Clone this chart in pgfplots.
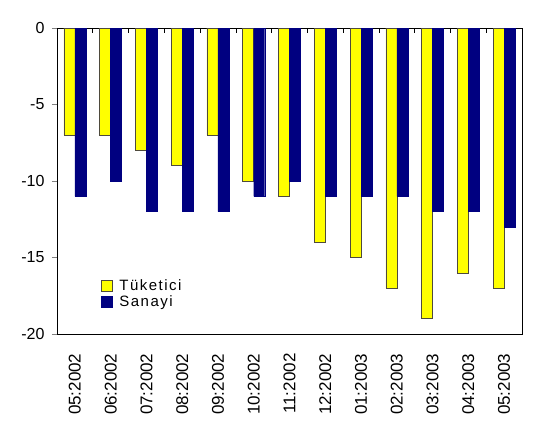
\documentclass[border=0pt]{standalone}
\usepackage{pgfplots}
\pgfplotsset{compat=1.18}
\usepackage{fontspec}
\setmainfont{Liberation Sans}
\newfontfamily\legfont[LetterSpace=10]{Liberation Sans}
\definecolor{tyel}{HTML}{FFFF00}
\definecolor{snavy}{HTML}{000080}
\pgfplotstableread{
x tuk san
0 -7 -11
1 -7 -10
2 -8 -12
3 -9 -12
4 -7 -12
5 -10 -11
6 -11 -10
7 -14 -11
8 -15 -11
9 -17 -11
10 -19 -12
11 -16 -12
12 -17 -13
}\datatab
\begin{document}
\begin{tikzpicture}
\begin{axis}[
  scale only axis, width=465pt, height=306pt,
  ybar=0pt, bar width=11pt,
  xmin=-0.5, xmax=12.5, ymin=-20, ymax=0,
  xtick={0,...,12},
  xticklabels={05:2002,06:2002,07:2002,08:2002,09:2002,10:2002,11:2002,12:2002,01:2003,02:2003,03:2003,04:2003,05:2003},
  xticklabel style={rotate=90, anchor=east, font=\fontsize{17}{19}\selectfont},
  xticklabel shift=16pt,
  xtick pos=right, xticklabel pos=left,
  major x tick style={draw=none},
  minor xtick={0.5,1.5,...,11.5},
  minor x tick style={black, line width=0.6pt},
  minor tick length=5pt,
  xtick align=inside,
  ytick={-20,-15,...,0},
  ytick pos=left, ytick align=outside, major tick length=5pt,
  yticklabel style={font=\fontsize{16}{18}\selectfont},
  yticklabel shift=4pt,
  /pgf/number format/assume math mode=true,
  axis line style={black, line width=0.7pt},
  legend cell align=left,
  legend style={draw=none, fill=none, at={(0.088,0.19)}, anchor=north west, font=\legfont\fontsize{15}{17}\selectfont, row sep=-1pt},
  legend image code/.code={\draw[#1] (0pt,-5.5pt) rectangle (11pt,5.5pt); \path[draw=none, fill=none] (11pt,0pt) -- (16pt,0pt);},
  clip=false,
]
\addplot[draw=black!80!yellow, line width=0.6pt, fill=tyel] table[x=x, y=tuk] {\datatab};
\addplot[draw=snavy, fill=snavy] table[x=x, y=san] {\datatab};
\legend{Tüketici, Sanayi}
\end{axis}
\useasboundingbox (current axis.south west) ++(-57pt,-90pt) rectangle ++(542pt,424pt);
\end{tikzpicture}
\end{document}
